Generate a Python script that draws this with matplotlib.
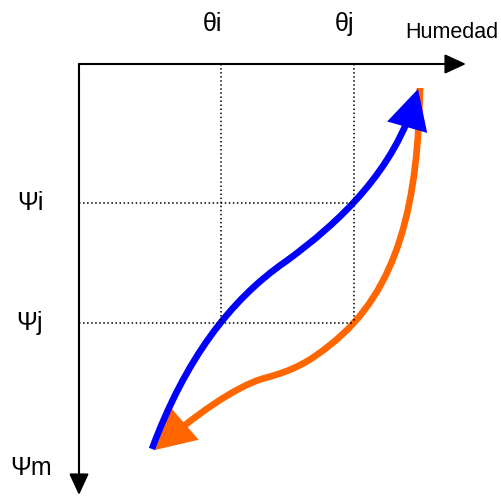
import numpy as np
import matplotlib.pyplot as plt
from matplotlib.path import Path
from matplotlib.patches import FancyArrowPatch

plt.rcParams['font.family'] = ['Liberation Sans', 'DejaVu Sans']

# schematic drawn in pixel space of the original picture (y grows downward)
origin = (79, 64)
x_end, y_end = 466, 495
theta_pos = [221, 354]          # theta_i, theta_j
psi_pos = [203, 323]            # psi_i, psi_j
theta_labels = ["θi", "θj"]
psi_labels = ["Ψi", "Ψj"]
psi_m_label = "Ψm"
x_label = "Humedad"

# drying curve (blue) control points, bottom -> top
blue_pts = [(152, 449), (185, 360), (230, 300), (285, 262),
            (340, 222), (395, 170), (418, 89)]
# wetting curve (orange) control points, top -> bottom
orange_pts = [(420, 88), (418, 200), (400, 290), (330, 345),
              (310, 361), (295, 370), (265, 378),
              (235, 386), (192, 418), (155, 450)]

fig = plt.figure(figsize=(5.01, 4.97), dpi=100)
ax = fig.add_axes([0, 0, 1, 1])
ax.set_xlim(0, 501)
ax.set_ylim(497, 0)
ax.axis('off')

# dotted guide lines
for x in theta_pos:
    ax.plot([x, x], [origin[1], max(psi_pos)], ':', color='black', lw=1.1)
for y in psi_pos:
    ax.plot([origin[0], max(theta_pos)], [y, y], ':', color='black', lw=1.1)

# axes arrows
for end in [(x_end, origin[1]), (origin[0], y_end)]:
    ax.add_patch(FancyArrowPatch(origin, end, arrowstyle='-|>,head_length=13,head_width=6',
                                 mutation_scale=1, color='black', lw=1.5,
                                 shrinkA=0, shrinkB=0))


def curve(pts, color):
    codes = [Path.MOVETO] + [Path.CURVE4] * (len(pts) - 1)
    p = Path(pts, codes)
    ax.add_patch(FancyArrowPatch(path=p, arrowstyle='-|>,head_length=21,head_width=11',
                                 mutation_scale=1, color=color, lw=4.8,
                                 joinstyle='miter', capstyle='butt'))


curve(orange_pts, '#ff6600')
curve(blue_pts, '#0000ff')

# labels
for x, t in zip(theta_pos, theta_labels):
    ax.text(x - 9, 24, t, fontsize=18, ha='center', va='center')
for y, t in zip(psi_pos, psi_labels):
    ax.text(30, y, t, fontsize=18, ha='center', va='center')
ax.text(31, 468, psi_m_label, fontsize=18, ha='center', va='center')
ax.text(452, 33, x_label, fontsize=15.5, ha='center', va='center')

fig.savefig('out.png', dpi=100)
